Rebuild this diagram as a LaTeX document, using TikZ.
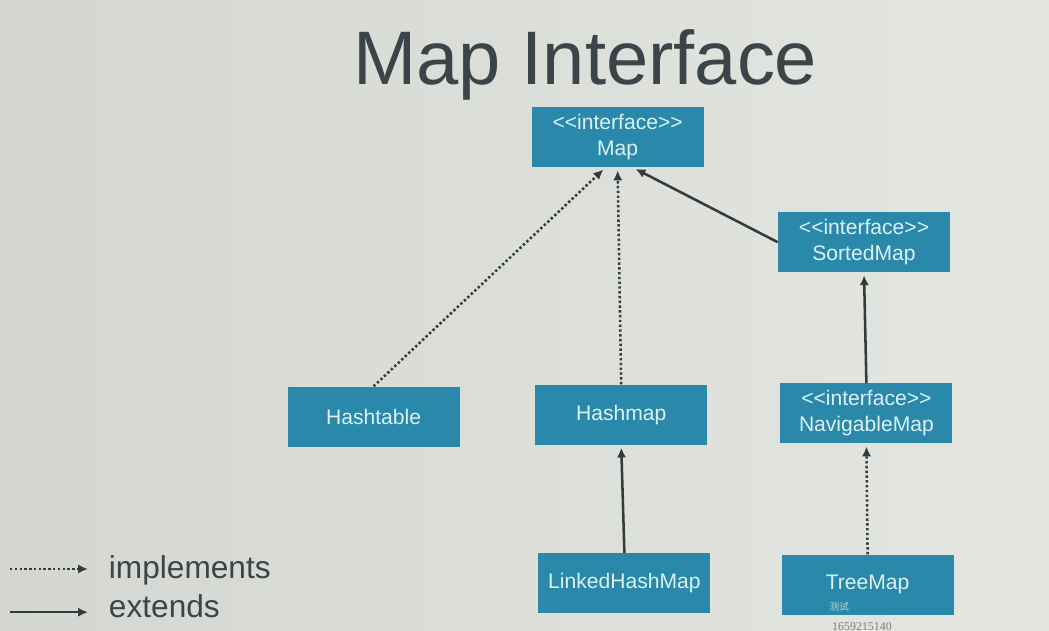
\documentclass[tikz,border=0pt]{standalone}
\usepackage{fontspec}
\setmainfont{Liberation Sans}
\newfontfamily\cjk{Noto Sans CJK SC}
\newfontfamily\wmdigits{Liberation Serif}
\usetikzlibrary{arrows.meta}

\definecolor{boxfill}{RGB}{42,137,171}
\definecolor{boxtext}{RGB}{218,241,246}
\definecolor{linegray}{RGB}{52,59,63}
\definecolor{titlegray}{RGB}{58,68,73}
\definecolor{slideleft}{RGB}{212,214,210}
\definecolor{slideright}{RGB}{228,230,226}

\newcommand{\stereo}{<{}<interface>{}>}

\begin{document}
\begin{tikzpicture}[
  cls/.style={fill=boxfill, text=boxtext, minimum width=4.3cm, minimum height=1.5cm,
    align=center, inner sep=0pt, font=\fontsize{15}{18.5}\selectfont},
  impl/.style={draw=linegray, line width=1.8pt, dash pattern=on 1.7pt off 1.7pt,
    -{Latex[length=7pt,width=6.5pt]}, shorten >=2pt},
  ext/.style={draw=linegray, line width=1.8pt,
    -{Latex[length=7pt,width=6.5pt]}, shorten >=2pt}
]
\shade[left color=slideleft, right color=slideright] (0,0) rectangle (26.225,15.775);
\useasboundingbox (0,0) rectangle (26.225,15.775);

\node[anchor=base, text=titlegray, font=\fontsize{54}{60}\selectfont] (title) at (14.63,13.65) {Map Interface};

\node[cls] (map) at (15.44,12.34) {\stereo\\Map};
\node[cls] (sortedmap) at (21.6,9.72) {\stereo\\SortedMap};
\node[cls] (hashtable) at (9.34,5.36) {Hashtable};
\node[cls] (hashmap) at (15.53,5.41) {Hashmap};
\node[cls] (navmap) at (21.66,5.44) {\stereo\\NavigableMap};
\node[cls] (linkedhashmap) at (15.61,1.19) {LinkedHashMap};
\node[cls] (treemap) at (21.69,1.16) {TreeMap};

\foreach \p/\q in {hashtable.north/map.248, hashmap.north/map.south, treemap.north/navmap.south}
{\draw[impl] (\p) -- (\q);}
\foreach \p/\q in {sortedmap.west/map.297, navmap.north/sortedmap.south, linkedhashmap.north/hashmap.south}
{\draw[ext] (\p) -- (\q);}

% legend
\coordinate (implA) at (0.25,1.55);
\coordinate (implB) at (2.2,1.55);
\coordinate (extA) at (0.25,0.47);
\coordinate (extB) at (2.2,0.47);
\draw[impl, shorten >=0pt] (implA) -- (implB);
\draw[ext, shorten >=0pt] (extA) -- (extB);
\node[anchor=base west, text=titlegray, font=\fontsize{22.5}{26}\selectfont] (impltext) at (2.6,1.32) {implements};
\node[anchor=base west, text=titlegray, font=\fontsize{22.5}{26}\selectfont] (exttext) at (2.6,0.33) {extends};

% watermark
\node[text=boxtext!70!gray, font=\cjk\fontsize{7}{8}\selectfont] (wmcn) at (20.98,0.6) {测试};
\node[text=gray, font=\wmdigits\fontsize{8.5}{9}\selectfont] (wmnum) at (21.55,0.12) {1659215140};
\end{tikzpicture}
\end{document}
